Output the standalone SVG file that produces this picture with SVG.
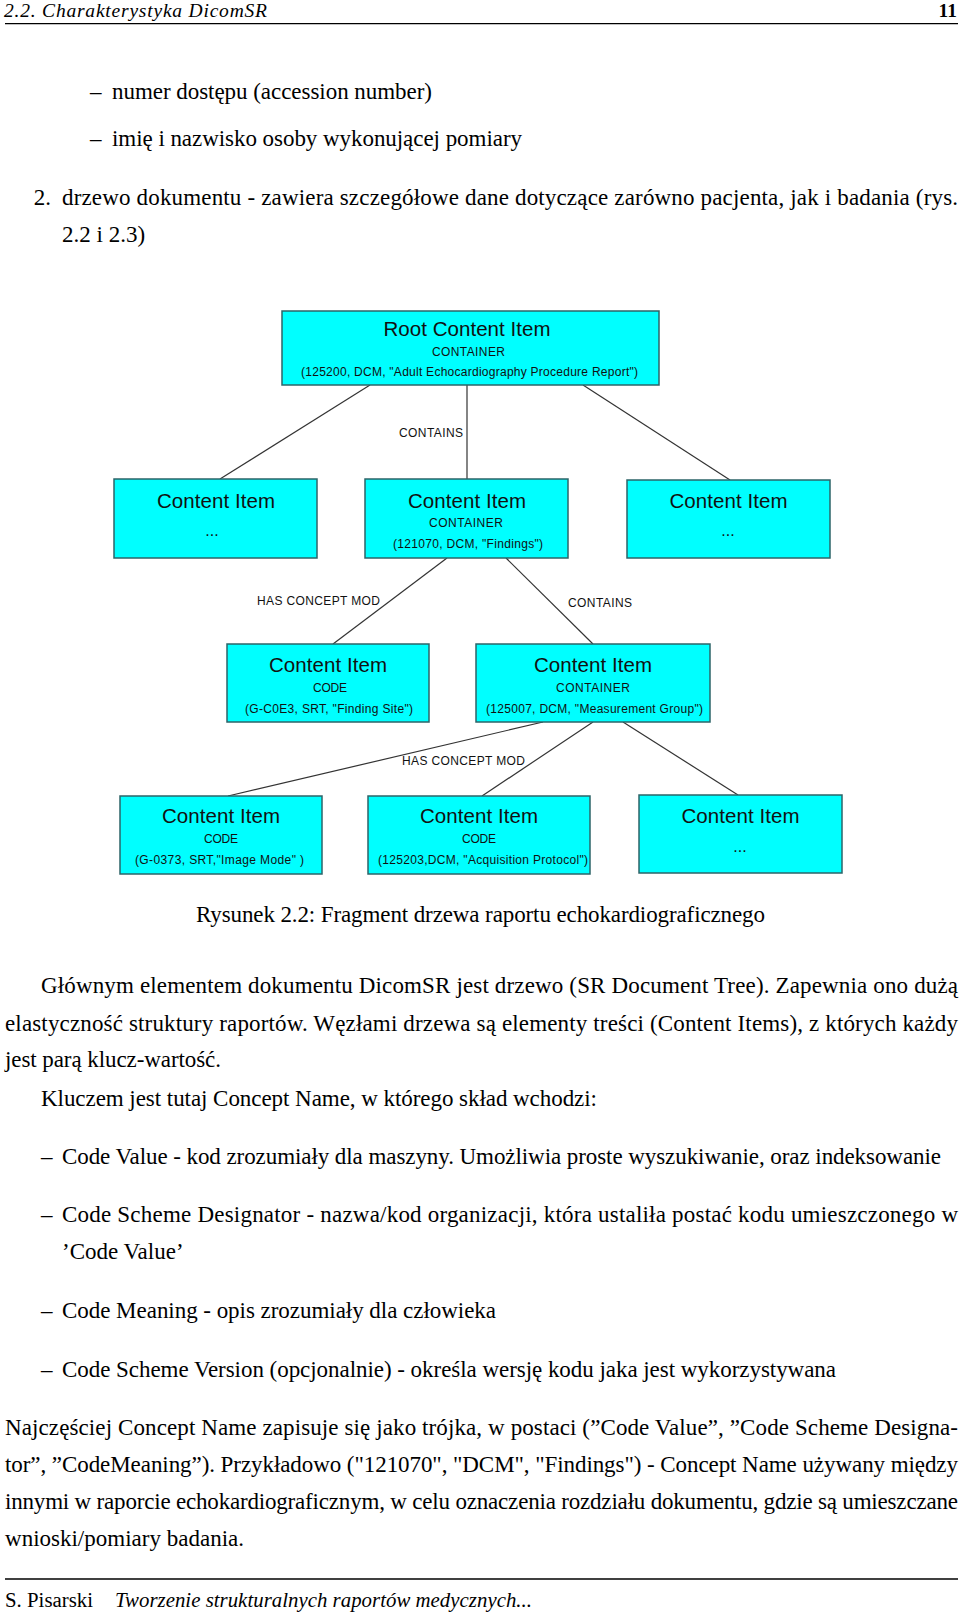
<svg xmlns="http://www.w3.org/2000/svg" width="960" height="1613" viewBox="0 0 960 1613">
<style>
.b{font-family:"Liberation Serif","Times New Roman",serif;font-size:23px;fill:#000}
.hf{font-family:"Liberation Serif","Times New Roman",serif;font-size:20.8px;fill:#000}
.hd{font-family:"Liberation Serif","Times New Roman",serif;font-size:19.5px;fill:#000}
.it{font-style:italic}
.bold{font-weight:bold}
.rule{stroke:#000;stroke-width:1.3}
.box{fill:#00ffff;stroke:#2d6468;stroke-width:1.5}
.t{font-family:"Liberation Sans",Arial,sans-serif;font-size:20.5px;fill:#111;text-anchor:middle}
.s{font-family:"Liberation Sans",Arial,sans-serif;font-size:12px;fill:#111;text-anchor:middle}
.d{font-family:"Liberation Sans",Arial,sans-serif;font-size:16px;fill:#111;text-anchor:middle}
.lbl{font-family:"Liberation Sans",Arial,sans-serif;font-size:12px;fill:#111}
.ln{stroke:#333;stroke-width:1.2;fill:none}
</style>

<!-- page header -->
<text class="hd it" x="4" y="17" textLength="263">2.2. Charakterystyka DicomSR</text>
<text class="hd bold" x="957" y="17" text-anchor="end">11</text>
<line class="rule" x1="5" y1="23.7" x2="958" y2="23.7"/>

<!-- list before figure -->
<text class="b" x="90" y="99">–</text>
<text class="b" x="112" y="99" textLength="320">numer dostępu (accession number)</text>
<text class="b" x="90" y="146">–</text>
<text class="b" x="112" y="146" textLength="410">imię i nazwisko osoby wykonującej pomiary</text>
<text class="b" x="51" y="205" text-anchor="end">2.</text>
<text class="b" x="62" y="205" textLength="896">drzewo dokumentu - zawiera szczegółowe dane dotyczące zarówno pacjenta, jak i badania (rys.</text>
<text class="b" x="62" y="242">2.2 i 2.3)</text>

<!-- connectors -->
<g id="connectors">
<line class="ln" x1="370" y1="385" x2="220" y2="479"/>
<line class="ln" x1="467" y1="385" x2="467" y2="479"/>
<line class="ln" x1="583" y1="385" x2="730" y2="480"/>
<line class="ln" x1="447" y1="558" x2="333" y2="644"/>
<line class="ln" x1="506" y1="558" x2="593" y2="644"/>
<line class="ln" x1="543" y1="722" x2="228" y2="796"/>
<line class="ln" x1="593" y1="722" x2="482" y2="796"/>
<line class="ln" x1="623" y1="722" x2="738" y2="795"/>
<text class="lbl" x="399" y="437" textLength="64">CONTAINS</text>
<text class="lbl" x="257" y="605" textLength="123">HAS CONCEPT MOD</text>
<text class="lbl" x="568" y="607" textLength="64">CONTAINS</text>
<text class="lbl" x="402" y="765" textLength="123">HAS CONCEPT MOD</text>
</g>

<!-- nodes -->
<g id="root">
<rect class="box" x="282" y="311" width="377" height="74"/>
<text class="t" x="467" y="336" textLength="167">Root Content Item</text>
<text class="s" x="468.5" y="356" textLength="73">CONTAINER</text>
<text class="s" x="469.5" y="376" textLength="337">(125200, DCM, "Adult Echocardiography Procedure Report")</text>
</g>
<g id="item-left">
<rect class="box" x="114" y="479" width="203" height="79"/>
<text class="t" x="216" y="508" textLength="118">Content Item</text>
<text class="d" x="212" y="536">...</text>
</g>
<g id="item-findings">
<rect class="box" x="365" y="479" width="203" height="79"/>
<text class="t" x="467" y="508" textLength="118">Content Item</text>
<text class="s" x="466" y="527" textLength="74">CONTAINER</text>
<text class="s" x="468" y="548" textLength="150">(121070, DCM, "Findings")</text>
</g>
<g id="item-right">
<rect class="box" x="627" y="480" width="203" height="78"/>
<text class="t" x="728.5" y="508" textLength="118">Content Item</text>
<text class="d" x="728" y="536">...</text>
</g>
<g id="item-finding-site">
<rect class="box" x="227" y="644" width="202" height="78"/>
<text class="t" x="328" y="672" textLength="118">Content Item</text>
<text class="s" x="330" y="692" textLength="34">CODE</text>
<text class="s" x="329" y="713" textLength="168">(G-C0E3, SRT, "Finding Site")</text>
</g>
<g id="item-measurement-group">
<rect class="box" x="476" y="644" width="234" height="78"/>
<text class="t" x="593" y="672" textLength="118">Content Item</text>
<text class="s" x="593" y="692" textLength="74">CONTAINER</text>
<text class="s" x="594.5" y="713" textLength="217">(125007, DCM, "Measurement Group")</text>
</g>
<g id="item-image-mode">
<rect class="box" x="120" y="796" width="202" height="78"/>
<text class="t" x="221" y="823" textLength="118">Content Item</text>
<text class="s" x="221" y="843" textLength="34">CODE</text>
<text class="s" x="219.5" y="864" textLength="169">(G-0373, SRT,"Image Mode" )</text>
</g>
<g id="item-acquisition-protocol">
<rect class="box" x="368" y="796" width="222" height="78"/>
<text class="t" x="479" y="823" textLength="118">Content Item</text>
<text class="s" x="479" y="843" textLength="34">CODE</text>
<text class="s" x="483" y="864" textLength="210">(125203,DCM, "Acquisition Protocol")</text>
</g>
<g id="item-bottom-right">
<rect class="box" x="639" y="795" width="203" height="78"/>
<text class="t" x="740.5" y="823" textLength="118">Content Item</text>
<text class="d" x="740" y="852">...</text>
</g>

<!-- caption and body text -->
<text class="b" x="196" y="922" textLength="569">Rysunek 2.2: Fragment drzewa raportu echokardiograficznego</text>

<text class="b" x="41" y="993" textLength="917">Głównym elementem dokumentu DicomSR jest drzewo (SR Document Tree). Zapewnia ono dużą</text>
<text class="b" x="5" y="1031" textLength="953">elastyczność struktury raportów. Węzłami drzewa są elementy treści (Content Items), z których każdy</text>
<text class="b" x="5" y="1067" textLength="216">jest parą klucz-wartość.</text>
<text class="b" x="41" y="1106" textLength="556">Kluczem jest tutaj Concept Name, w którego skład wchodzi:</text>

<text class="b" x="41" y="1164">–</text>
<text class="b" x="62" y="1164" textLength="879">Code Value - kod zrozumiały dla maszyny. Umożliwia proste wyszukiwanie, oraz indeksowanie</text>
<text class="b" x="41" y="1222">–</text>
<text class="b" x="62" y="1222" textLength="896">Code Scheme Designator - nazwa/kod organizacji, która ustaliła postać kodu umieszczonego w</text>
<text class="b" x="62" y="1259">’Code Value’</text>
<text class="b" x="41" y="1318">–</text>
<text class="b" x="62" y="1318" textLength="434">Code Meaning - opis zrozumiały dla człowieka</text>
<text class="b" x="41" y="1377">–</text>
<text class="b" x="62" y="1377" textLength="774">Code Scheme Version (opcjonalnie) - określa wersję kodu jaka jest wykorzystywana</text>

<text class="b" x="5" y="1435" textLength="953">Najczęściej Concept Name zapisuje się jako trójka, w postaci (”Code Value”, ”Code Scheme Designa-</text>
<text class="b" x="5" y="1472" textLength="953">tor”, ”CodeMeaning”). Przykładowo ("121070", "DCM", "Findings") - Concept Name używany między</text>
<text class="b" x="5" y="1509" textLength="953">innymi w raporcie echokardiograficznym, w celu oznaczenia rozdziału dokumentu, gdzie są umieszczane</text>
<text class="b" x="5" y="1546" textLength="239">wnioski/pomiary badania.</text>

<!-- footer -->
<line class="rule" x1="5" y1="1579" x2="958" y2="1579"/>
<text class="hf" x="5" y="1607" textLength="88">S. Pisarski</text>
<text class="hf it" x="115" y="1607" textLength="417">Tworzenie strukturalnych raportów medycznych...</text>
</svg>
